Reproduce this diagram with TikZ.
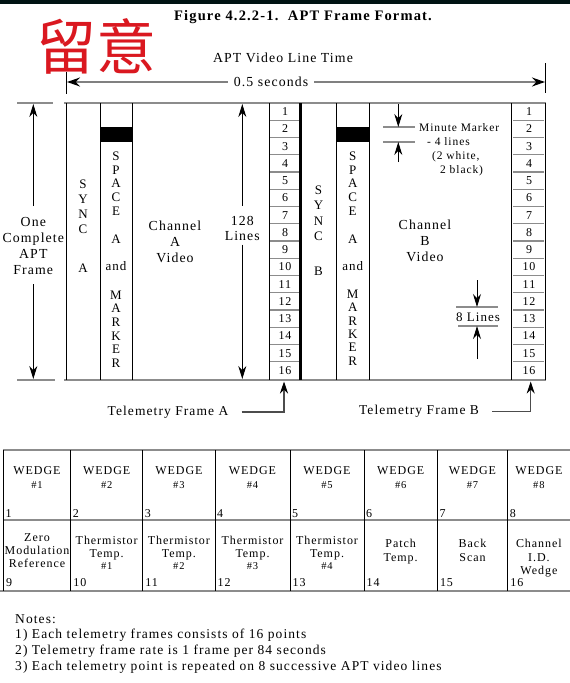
\documentclass[tikz,border=0pt]{standalone}
\usepackage{fontspec}
\setmainfont{Liberation Serif}[LetterSpace=8]
\newfontfamily\cjk{Noto Sans CJK SC}
\usetikzlibrary{arrows.meta,positioning}
\definecolor{stamp}{RGB}{218,24,32}

\begin{document}
\begin{tikzpicture}[
  x=1pt,y=-1pt,
  lbl/.style={inner sep=0pt,font=\fontsize{13.8}{16}\selectfont,align=center},
  stack/.style={inner sep=0pt,font=\fontsize{13}{15}\selectfont,align=center},
  num/.style={inner sep=0pt,font=\fontsize{12}{12}\selectfont},
  cell/.style={inner sep=0pt,font=\fontsize{12}{13}\selectfont,align=center},
  col/.style={line width=0.9pt},
  rule/.style={gray!90,line width=1.5pt},
  tick/.style={gray!90,line width=1.2pt},
  dim/.style={line width=0.9pt,-{Stealth[length=13pt,width=8pt]}},
  span/.style={gray,line width=1.5pt,-{Stealth[length=13pt,width=9pt,color=black]}},
  lead/.style={black!70,line width=1.1pt,-{Stealth[length=12pt,width=8pt,color=black]}}
]
\useasboundingbox (0,0) rectangle (570,683);
\fill[white] (0,0) rectangle (570,683);
\fill[black!85!teal] (0,0) rectangle (570,3.5);

% title
\node[inner sep=0pt,font=\bfseries\fontsize{14.5}{14.5}\selectfont] (title) at (303,17) {Figure 4.2.2-1.\ \ APT Frame Format.};
\node[inner sep=0pt,text=stamp,font=\cjk\fontsize{60}{60}\selectfont] (mark) at (96.5,46) {留意};

% line time
\node[lbl] (lt) at (283,58) {APT Video Line Time};
\node[lbl,inner xsep=6pt] (sec) at (271,82) {0.5 seconds};
\coordinate (secL) at (67,82);
\coordinate (secR) at (545,82);
\draw[col] (66.7,72) -- (66.7,94);
\draw[col] (545,63) -- (545,93);
\draw[span] (sec.west) -- (secL);
\draw[span] (sec.east) -- (secR);

% frame
\draw[rule] (64,103) -- (546,103);
\draw[rule] (64,380) -- (546,380);
\draw[rule] (17,103) -- (53,103);
\draw[rule] (17,380) -- (55,380);
\foreach \x in {66.7,100,132.3,269.3,336,369.3,511.7,545}
  \draw[col] (\x,103) -- (\x,380);
\draw[line width=3pt] (300.7,103) -- (300.7,380);
\fill (100,127) rectangle (132.3,142);
\fill (336,127) rectangle (369.3,142);

% telemetry columns
\foreach \k in {1,...,15} {
  \draw[tick] (270,103+17.25*\k) -- (299,103+17.25*\k);
  \draw[tick] (513,103+17.25*\k) -- (544,103+17.25*\k);
}
\foreach \k in {1,...,16} {
  \node[num] (tA\k) at (285,94.4+17.25*\k) {\k};
  \node[num] (tB\k) at (529,94.4+17.25*\k) {\k};
}

% one frame
\node[lbl] (apt) at (33.3,246) {One\\Complete\\APT\\Frame};
\coordinate (aptT) at (33.3,104);
\coordinate (aptB) at (33.3,379);
\draw[dim,shorten <=11pt] (apt.north) -- (aptT);
\draw[dim,shorten <=9.5pt] (apt.south) -- (aptB);

% channel A
\node[stack] (syncA) at (83,206.5) {S\\Y\\N\\C};
\node[stack] (syncAl) at (83,268) {A};
\node[stack,font=\fontsize{13}{13.8}\selectfont] (spcA) at (116,183.5) {S\\P\\A\\C\\E};
\node[stack] (spcAa) at (116,239.5) {A};
\node[stack] (spcAn) at (116,266.5) {and};
\node[stack,font=\fontsize{13}{13.6}\selectfont] (mkrA) at (116,329) {M\\A\\R\\K\\E\\R};
\node[lbl] (vidA) at (175,242) {Channel\\A\\Video};
\node[lbl,font=\fontsize{13.8}{15}\selectfont] (lines) at (242.3,228.2) {128\\Lines};
\coordinate (linesT) at (242.3,104);
\coordinate (linesB) at (242.3,379);
\draw[dim,shorten <=10pt] (lines.north) -- (linesT);
\draw[dim,shorten <=4pt] (lines.south) -- (linesB);

% channel B
\node[stack,font=\fontsize{13}{15.5}\selectfont] (syncB) at (318.5,213.5) {S\\Y\\N\\C};
\node[stack] (syncBl) at (318.5,271) {B};
\node[stack,font=\fontsize{13}{13.8}\selectfont] (spcB) at (352.7,183.5) {S\\P\\A\\C\\E};
\node[stack] (spcBa) at (352.7,239) {A};
\node[stack] (spcBn) at (352.7,266) {and};
\node[stack,font=\fontsize{13}{13.4}\selectfont] (mkrB) at (352.7,327.5) {M\\A\\R\\K\\E\\R};
\node[lbl] (vidB) at (425,240.7) {Channel\\B\\Video};

% minute marker
\coordinate (mmT) at (398.3,104);
\coordinate (mmA) at (398.3,127);
\coordinate (mmB) at (398.3,142);
\coordinate (mmU) at (398.3,162);
\draw[rule] (383,127) -- (415,127);
\draw[rule] (383,142) -- (415,142);
\draw[dim] (mmT) -- (mmA);
\draw[dim] (mmU) -- (mmB);
\node[inner sep=0pt,anchor=north west,align=left,font=\fontsize{11.5}{14}\selectfont] (mm) at (419,123.5)
  {Minute Marker\\\hspace{8pt}- 4 lines\\\hspace{13pt}(2 white,\\\hspace{21pt}2 black)};

% eight lines
\coordinate (elT) at (477,280);
\coordinate (elA) at (477,307);
\coordinate (elB) at (477,326);
\coordinate (elU) at (477,359);
\draw[rule] (456,307) -- (498,307);
\draw[rule] (458,326) -- (498,326);
\draw[dim] (elT) -- (elA);
\draw[dim] (elU) -- (elB);
\node[lbl,font=\fontsize{13}{13}\selectfont] (eight) at (478,317) {8 Lines};

% telemetry frames
\node[lbl,font=\fontsize{13.5}{13.5}\selectfont] (tfa) at (168,412) {Telemetry Frame A};
\coordinate (tfaK) at (284,412);
\coordinate (tfaP) at (284,381.5);
\draw[lead] ([xshift=13pt]tfa.east) -- (tfaK) -- (tfaP);
\node[lbl,font=\fontsize{13.5}{13.5}\selectfont] (tfb) at (419,411.5) {Telemetry Frame B};
\coordinate (tfbK) at (530.7,411.5);
\coordinate (tfbP) at (530.7,381.5);
\draw[lead] ([xshift=13pt]tfb.east) -- (tfbK) -- (tfbP);

% wedge table
\draw[rule] (3,450) -- (570,450);
\draw[rule] (3,520) -- (570,520);
\draw[rule] (0,591) -- (570,591);
\foreach \x in {3.3,70.7,142.7,215,290,364,437.3,507.7}
  \draw[col] (\x,450) -- (\x,591);
\foreach \x/\c [count=\i, evaluate=\i as \j using int(\i+8)] in
  {3.3/37,70.7/106.7,142.7/178.9,215/252.5,290/327,364/400.7,437.3/472.5,507.7/538.9} {
  \node[cell,font=\fontsize{12}{14}\selectfont] (wedge\i) at (\c,478) {WEDGE\\{\fontsize{10.5}{10}\selectfont\#\i}};
  \node[num,anchor=west] (wn\i) at (\x+2,514) {\i};
  \node[num,anchor=west] (wn\j) at (\x+2.5,583) {\j};
}
\node[cell,anchor=north] (zero) at (37,533) {Zero\\Modulation\\Reference};
\node[cell,anchor=north,font=\fontsize{12}{12.5}\selectfont] (th1) at (106.7,536) {Thermistor\\Temp.\\{\fontsize{10.5}{10}\selectfont\#1}};
\node[cell,anchor=north,font=\fontsize{12}{12.5}\selectfont] (th2) at (178.9,536) {Thermistor\\Temp.\\{\fontsize{10.5}{10}\selectfont\#2}};
\node[cell,anchor=north,font=\fontsize{12}{12.5}\selectfont] (th3) at (252.5,536) {Thermistor\\Temp.\\{\fontsize{10.5}{10}\selectfont\#3}};
\node[cell,anchor=north,font=\fontsize{12}{12.5}\selectfont] (th4) at (327,536) {Thermistor\\Temp.\\{\fontsize{10.5}{10}\selectfont\#4}};
\node[cell,anchor=north,font=\fontsize{12}{13.5}\selectfont] (patch) at (400.7,539) {Patch\\Temp.};
\node[cell,anchor=north,font=\fontsize{12}{13.5}\selectfont] (back) at (472.5,539) {Back\\Scan};
\node[cell,anchor=north,font=\fontsize{12}{13.5}\selectfont] (chid) at (538.9,539) {Channel\\I.D.\\Wedge};

% notes
\node[inner sep=0pt,anchor=north west,align=left,font=\fontsize{13.5}{15.7}\selectfont] (notes) at (15,614)
  {Notes:\\1) Each telemetry frames consists of 16 points\\2) Telemetry frame rate is 1 frame per 84 seconds\\3) Each telemetry point is repeated on 8 successive APT video lines};
\end{tikzpicture}
\end{document}
